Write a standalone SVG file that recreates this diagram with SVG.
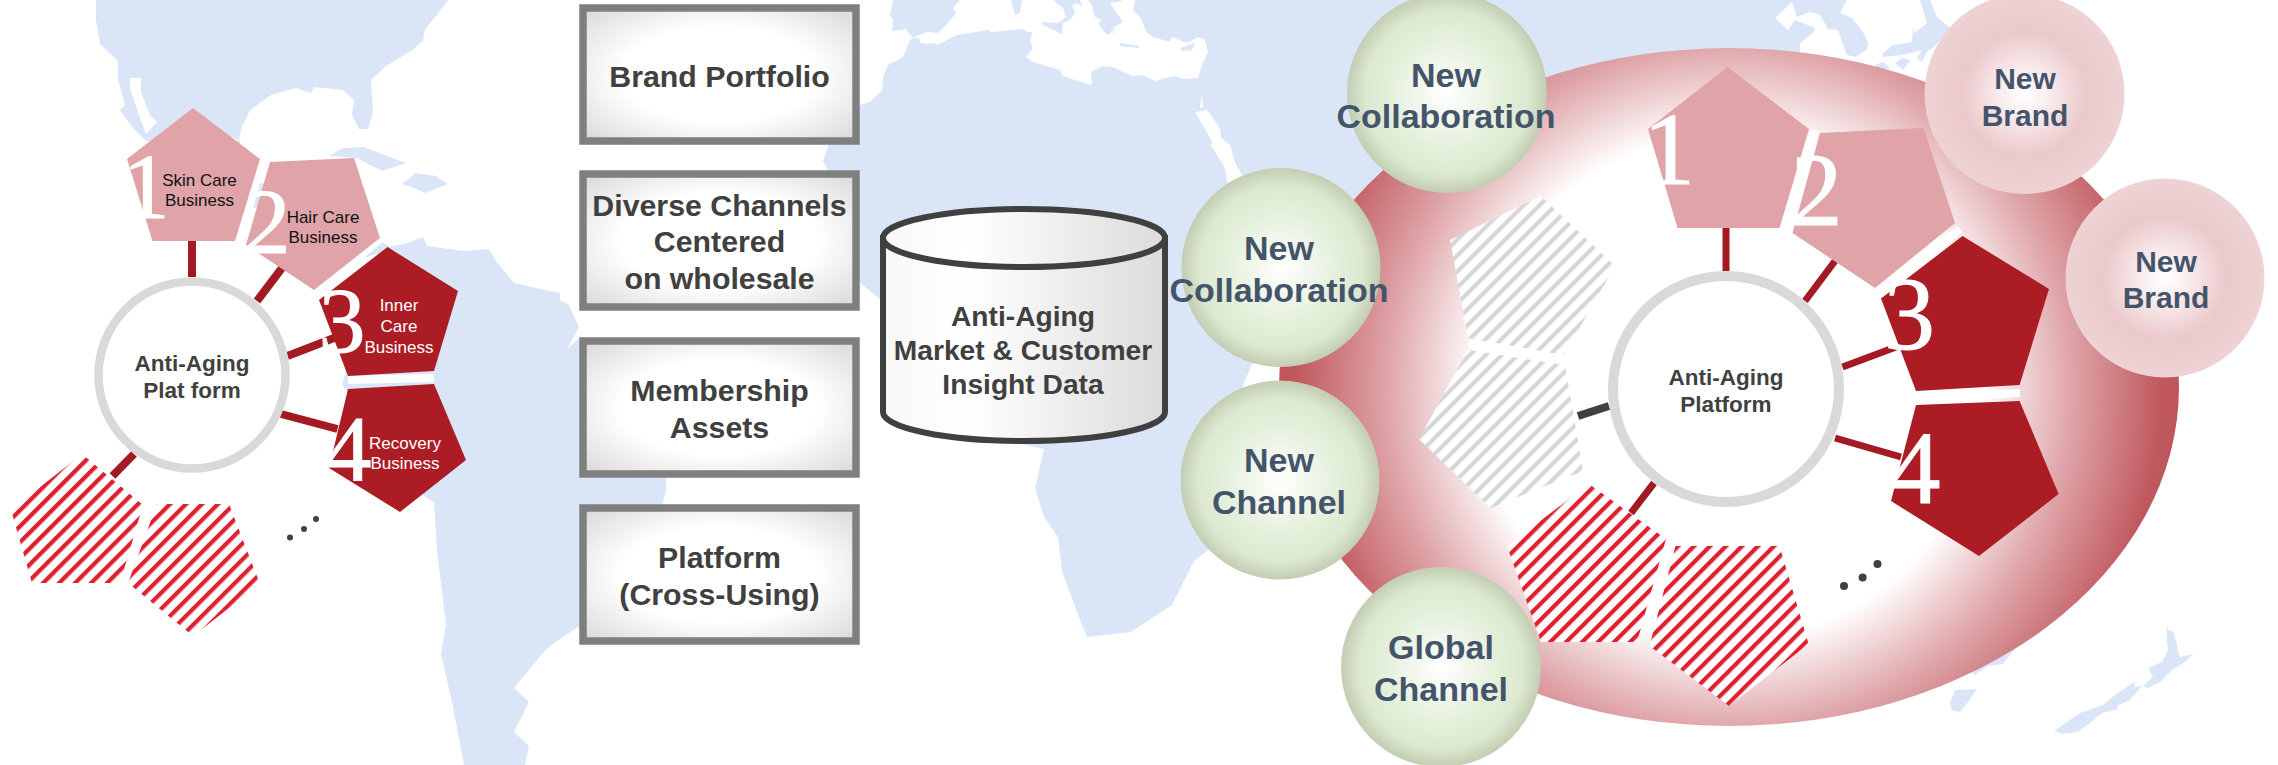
<svg xmlns="http://www.w3.org/2000/svg" width="2278" height="765" viewBox="0 0 2278 765">
<style>
text{font-family:"Liberation Sans",Arial,sans-serif;text-anchor:middle}
.land{fill:#dae6f8}.sea{fill:#fff}
.l{fill:#dfa3a8}.d{fill:#ab1c24}
.cut{stroke:#fff;fill:none}
.c{stroke:#a31a24;fill:none}
.ring{fill:#fff;stroke:#d9d9d9}
.box{fill:url(#gBox);stroke:#7f7f7f;stroke-width:7.5}
.bt{font-weight:bold;font-size:30.3px;fill:#404040}
.cy{font-weight:bold;font-size:28.2px;fill:#404040}
.hub{font-weight:bold;font-size:22.5px;fill:#404040}
.gt{font-weight:bold;font-size:34px;fill:#44546a}
.pt{font-weight:bold;font-size:30px;fill:#44546a}
.sm{font-size:17px;fill:#111}.smw{font-size:17px;fill:#fff}
.n{font-family:"Liberation Serif","Times New Roman",serif;fill:#fff;stroke:#fff;stroke-width:1;font-size:94px}
.nb{font-size:104px}
.dot{fill:#404040}
</style>
<defs>
<radialGradient id="gBox" cx=".5" cy=".5" r=".72"><stop offset=".5" stop-color="#fff"/><stop offset="1" stop-color="#d6d6d6"/></radialGradient>
<linearGradient id="gCyl" x1="0" x2="1" y1="0" y2="0"><stop offset="0" stop-color="#f8f8f8"/><stop offset=".3" stop-color="#fff"/><stop offset="1" stop-color="#dcdcdc"/></linearGradient>
<radialGradient id="gDisk" gradientUnits="userSpaceOnUse" cx="1729" cy="387" r="450"><stop offset=".56" stop-color="#fff"/><stop offset=".76" stop-color="#dfa5a9"/><stop offset=".96" stop-color="#c0595f"/><stop offset="1" stop-color="#bd555b"/></radialGradient>
<radialGradient id="gGreen"><stop offset="0" stop-color="#fff"/><stop offset=".6" stop-color="#e3efd9"/><stop offset=".82" stop-color="#dce8d0"/><stop offset="1" stop-color="#c2cdb3"/></radialGradient>
<radialGradient id="gPink"><stop offset="0" stop-color="#fff"/><stop offset=".2" stop-color="#fbf0f1"/><stop offset=".62" stop-color="#ebc9cc"/><stop offset="1" stop-color="#eed2d4"/></radialGradient>
<pattern id="hR" patternUnits="userSpaceOnUse" width="11.300" height="11.300" patternTransform="rotate(-45)"><rect width="11.300" height="11.300" fill="#fff"/><rect width="11.300" height="4.200" fill="#de2130"/></pattern>
<pattern id="hG" patternUnits="userSpaceOnUse" width="11.300" height="11.300" patternTransform="rotate(-45)"><rect width="11.300" height="11.300" fill="#fff"/><rect width="11.300" height="4.200" fill="#d6d6d6"/></pattern>
</defs>
<g id="map">
<path class="land" d="M96,0 96,20 100,44 118,61 118,80 125,105 120,110 132,127 146,141 193,150 232,137 239,141 241,129 250,110 271,95 296,88 311,93 314,87 343,90 354,100 352,115 359,129 368,129 373,112 371,80 386,66 411,51 423,41 425,29 437,15 448,0Z"/>
<path class="sea" d="M130,78 141,78 141,93 150,115 157,122 146,134 139,115 130,88Z"/>
<path class="land" d="M150,140 180,215 262,207 300,245 345,262 395,250 340,215 290,190 262,183 246,185 240,141Z"/>
<path class="land" d="M329,156 343,148 364,147 384,155 406,163 382,171 357,158Z M402,184 416,173 436,176 448,184 425,193 414,188Z"/>
<path class="land" d="M387,247 404,244 423,237 427,246 464,251 489,249 496,261 514,283 536,288 560,293 560,300 569,305 579,327 567,349 578,339 600,360 666,478 666,490 663,502 620,600 578,627 560,639 546,649 514,688 529,702 514,732 529,746 525,765 464,765 452,702 441,654 446,624 437,551 434,502 425,497 350,395 342,385 345,375Z"/>
<path class="land" d="M893,0 890,15 893,20 892,31 903,30 905,28 913,38 910,40 903,57 888,65 883,77 882,90 870,102 860,105 828,146 823,161 828,170 840,230 860,283 879,298 1000,440 1044,449 1035,488 1044,517 1058,537 1062,571 1080,620 1087,637 1131,632 1172,605 1194,561 1207,551 1270,450 1243,385 1252,364 1300,320 1400,300 1800,100 1800,52 1800,43 1813,33 1815,28 1795,20 1788,30 1775,18 1792,2 1797,17 1810,12 1820,15 1828,29 1838,30 1847,55 1855,57 1867,50 1868,43 1863,32 1852,18 1840,13 1847,0Z"/>
<path class="sea" d="M913,38 919,38 920,43 928,44 935,43 937,45 957,35 988,30 992,32 1023,29 1028,32 1032,32 1030,42 1033,48 1026,57 1033,62 1060,70 1063,76 1090,85 1092,83 1091,72 1103,66 1113,67 1132,76 1143,75 1155,81 1166,78 1175,76 1183,79 1198,78 1202,65 1208,52 1205,40 1198,37 1187,43 1172,37 1170,42 1153,37 1147,33 1140,17 1133,10 1135,0 1123,0 1118,2 1110,3 1123,22 1113,28 1116,36 1112,30 1109,35 1105,33 1098,23 1102,20 1095,17 1092,5 1088,0 1080,0 1083,7 1077,3 1072,5 1075,13 1070,20 1063,23 1062,34 1043,25 1042,22 1058,23 1066,17 1063,8 1053,0 1022,0 1020,13 1015,15 1011,0 960,0 953,8 956,13 947,24 938,33 927,32 917,36Z"/>
<path class="land" d="M1120,43 1135,45 1139,46 1139,48 1120,46Z M1180,48 1195,43 1192,50 1182,51Z"/>
<path class="sea" d="M1195,112 1207,110 1220,128 1221,138 1230,145 1235,163 1242,175 1260,200 1240,230 1227,180 1225,168 1210,144 1213,143Z M1202,93 1203,107 1200,108Z"/>
<path class="land" d="M1920,0 1927,23 1915,33 1913,28 1912,42 1893,45 1883,53 1882,57 1902,55 1922,50 1917,58 1922,62 1928,50 1933,48 1942,38 1950,60 1965,40 1937,17 1930,0Z M1895,63 1902,58 1910,60 1907,65 1903,70 1898,66Z M1875,65 1883,62 1890,68 1880,72Z"/>
<path class="land" d="M2167,625 2168,630 2174,632 2175,640 2177,643 2177,648 2180,657 2193,654 2185,662 2172,670 2160,682 2148,688 2143,686 2153,677 2148,668 2162,662 2168,650 2167,640Z M2142,686 2135,687 2134,682 2127,687 2115,695 2103,705 2080,713 2054,731 2063,734 2077,732 2090,723 2102,713 2118,709 2117,706 2130,700Z M1955,690 1977,689 1968,702 1960,712 1952,710 1950,703Z M1972,673 1975,675 1988,666 2003,664 2015,649 1960,640Z"/>
</g>
<ellipse id="disk" cx="1729" cy="387" rx="450" ry="339" fill="url(#gDisk)"/>
<g id="connectors">
<path class="c" stroke-width="8" d="M192,241V277M282,268 257,301M287.500,356 334,338M281,414 337.500,429M134,454 112.500,476"/>
<path class="c" stroke-width="7" d="M1726,228V271M1835,261 1805,301M1842.500,367 1896,347M1835,438 1901,457M1654,483 1631,513"/>
<path stroke="#404040" stroke-width="8" fill="none" d="M1578,416 1609,406"/>
</g>
<g id="gaps">
<path class="cut" stroke-width="8" d="M263,160 239,241M381,238 318,293M348,380 434,378"/>
<path class="cut" stroke-width="8" d="M1815,130 1786,228M1960,229 1878,293M1916,398 2020,393M1468,344 1565,360"/>
</g>
<g id="left-platform">
<g id="l-hub"><circle class="ring" stroke-width="8.500" cx="192" cy="375" r="93.500"/><text class="hub" x="192" y="371">Anti-Aging</text><text class="hub" x="192" y="398">Plat form</text></g>
<g id="l-p1"><polygon class="l" points="193,108 260,159 235,241 152.500,241 127,159"/><text class="sm" x="199.500" y="186">Skin Care</text><text class="sm" x="199.500" y="206">Business</text><text class="n" x="146" y="218">1</text></g>
<g id="l-p2"><polygon class="l" points="354,158 380,238 314,290 246,245 270,162"/><text class="sm" x="323" y="223">Hair Care</text><text class="sm" x="323" y="243">Business</text><text class="n" x="267" y="253">2</text></g>
<g id="l-p3"><polygon class="d" points="387.500,247 458,291 434,371 348,376 319,300"/><text class="smw" x="399" y="311">Inner</text><text class="smw" x="399" y="332">Care</text><text class="smw" x="399" y="353">Business</text><text class="n" x="342" y="352">3</text></g>
<g id="l-p4"><polygon class="d" points="434,384 466,460 400,512 329,468 348,389"/><text class="smw" x="405" y="449">Recovery</text><text class="smw" x="405" y="469">Business</text><text class="n" x="348" y="480">4</text></g>
<polygon id="l-h1" fill="url(#hR)" points="82,454 143,505 120,583 32,583 11,510"/>
<polygon id="l-h2" fill="url(#hR)" points="157,504 229,504 260,584 193,636 128,583"/>
<g id="l-dots"><circle class="dot" cx="290" cy="537.500" r="3"/><circle class="dot" cx="304" cy="529" r="3"/><circle class="dot" cx="316" cy="519" r="3"/></g>
</g>
<g id="b1"><rect class="box" x="583" y="8" width="273" height="133"/><text class="bt" x="719.500" y="87">Brand Portfolio</text></g>
<g id="b2"><rect class="box" x="583" y="174" width="273" height="133"/><text class="bt" x="719.500" y="216">Diverse Channels</text><text class="bt" x="719.500" y="252">Centered</text><text class="bt" x="719.500" y="289">on wholesale</text></g>
<g id="b3"><rect class="box" x="583" y="341" width="273" height="133"/><text class="bt" x="719.500" y="401">Membership</text><text class="bt" x="719.500" y="437.500">Assets</text></g>
<g id="b4"><rect class="box" x="583" y="508" width="273" height="133"/><text class="bt" x="719.500" y="568">Platform</text><text class="bt" x="719.500" y="605">(Cross-Using)</text></g>
<g id="cylinder">
<path fill="url(#gCyl)" stroke="#404040" stroke-width="6" d="M883,238V412A141,29 0 0 0 1165,412V238Z"/>
<ellipse cx="1024" cy="238" rx="141" ry="29" fill="url(#gCyl)" stroke="#404040" stroke-width="6"/>
<text class="cy" x="1023" y="326">Anti-Aging</text><text class="cy" x="1023" y="360">Market &amp; Customer</text><text class="cy" x="1023" y="394">Insight Data</text>
</g>
<g id="right-platform">
<g id="r-hub"><circle class="ring" stroke-width="10" cx="1726" cy="389" r="113"/><text class="hub" x="1726" y="385">Anti-Aging</text><text class="hub" x="1726" y="412">Platform</text></g>
<g id="r-p1"><polygon class="l" points="1727.500,67 1809,129 1779.500,228 1677.500,228 1648,129"/><text class="n nb" x="1669" y="184">1</text></g>
<g id="r-p2"><polygon class="l" points="1923.500,128 1955,223 1875,288 1792.500,233 1820,133"/><text class="n nb" x="1816.500" y="225">2</text></g>
<g id="r-p3"><polygon class="d" points="1962.500,236 2049,289 2019.600,385 1916,391 1881,298.500"/><text class="n nb" x="1909" y="349">3</text></g>
<g id="r-p4"><polygon class="d" points="2019.600,401 2058.600,494 1979,556 1891,501 1916,405"/><text class="n nb" x="1914.500" y="503">4</text></g>
<polygon id="r-g1" fill="url(#hG)" points="1541,196 1615,266 1564,355 1468,338 1450,240"/>
<polygon id="r-g2" fill="url(#hG)" points="1468,350 1565,365 1583,471 1490.500,508 1419,439"/>
<polygon id="r-h1" fill="url(#hR)" points="1589,484 1666,539 1637,642 1541,642 1507,546"/>
<polygon id="r-h2" fill="url(#hR)" points="1675.500,546 1779.500,546 1808.600,644 1729,706 1649.600,646"/>
<g id="r-dots"><circle class="dot" cx="1844" cy="586" r="4"/><circle class="dot" cx="1862.600" cy="577.500" r="4"/><circle class="dot" cx="1877.500" cy="564" r="4"/></g>
</g>
<g id="g1"><circle cx="1447" cy="93" r="100" fill="url(#gGreen)"/><text class="gt" x="1446" y="87">New</text><text class="gt" x="1446" y="128">Collaboration</text></g>
<g id="g2"><circle cx="1281" cy="267.500" r="99.500" fill="url(#gGreen)"/><text class="gt" x="1279" y="260">New</text><text class="gt" x="1279" y="302">Collaboration</text></g>
<g id="g3"><circle cx="1280" cy="480" r="99.500" fill="url(#gGreen)"/><text class="gt" x="1279" y="472">New</text><text class="gt" x="1279" y="514">Channel</text></g>
<g id="g4"><circle cx="1441" cy="667" r="100" fill="url(#gGreen)"/><text class="gt" x="1441" y="658.500">Global</text><text class="gt" x="1441" y="701">Channel</text></g>
<g id="p1"><circle cx="2024.500" cy="94" r="100" fill="url(#gPink)"/><text class="pt" x="2025" y="89">New</text><text class="pt" x="2025" y="126">Brand</text></g>
<g id="p2"><circle cx="2165" cy="278" r="99.500" fill="url(#gPink)"/><text class="pt" x="2166" y="272">New</text><text class="pt" x="2166" y="308">Brand</text></g>
</svg>
